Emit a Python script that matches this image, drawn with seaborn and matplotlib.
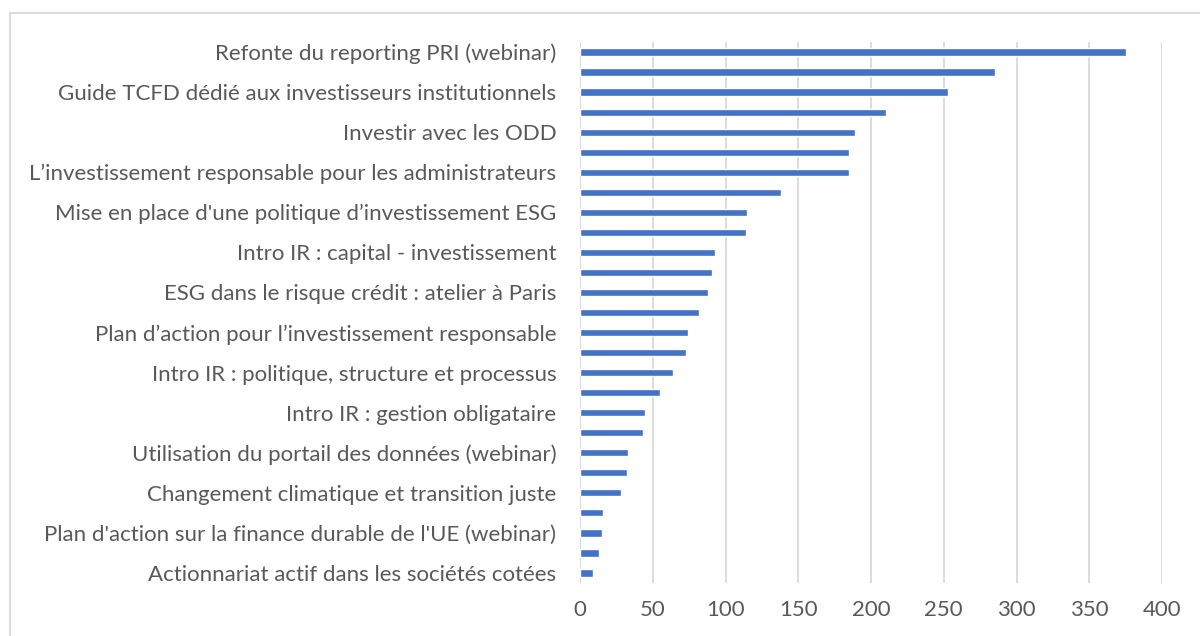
import matplotlib
matplotlib.use("Agg")
import matplotlib.pyplot as plt
from matplotlib.patches import Rectangle
import pandas as pd
import seaborn as sns

# Visible category labels (Excel shows every other one)
shown_labels = [
    "Refonte du reporting PRI (webinar)",
    "Guide TCFD dédié aux investisseurs institutionnels",
    "Investir avec les ODD",
    "L’investissement responsable pour les administrateurs",
    "Mise en place d'une politique d’investissement ESG",
    "Intro IR : capital - investissement",
    "ESG dans le risque crédit : atelier à Paris",
    "Plan d’action pour l’investissement responsable",
    "Intro IR : politique, structure et processus",
    "Intro IR : gestion obligataire",
    "Utilisation du portail des données (webinar)",
    "Changement climatique et transition juste",
    "Plan d'action sur la finance durable de l'UE (webinar)",
    "Actionnariat actif dans les sociétés cotées",
]

values = [375, 285, 253, 210, 189, 185, 185, 138, 115, 114, 93, 91, 88, 82,
          74, 73, 64, 55, 45, 43, 33, 32, 28, 16, 15, 13, 9]
rank = [str(i + 1) for i in range(len(values))]

x_ticks = list(range(0, 401, 50))

df = pd.DataFrame({"rank": rank, "participants": values})

sns.set_style("white")
plt.rcParams["font.family"] = ["Lato", "DejaVu Sans"]

fig = plt.figure(figsize=(12, 6.36), dpi=100)
ax = fig.add_axes([580 / 1200, 1 - 583 / 636, 582 / 1200, 541 / 636])

sns.barplot(data=df, x="participants", y="rank", color="#4472C4",
            saturation=1, width=0.36, ax=ax)

ax.set_xlim(0, 400)
ax.set_xticks(x_ticks)
ax.set_yticks(range(0, len(values), 2))
ax.set_yticklabels(shown_labels)
ax.xaxis.grid(True, color="#d9d9d9", lw=1.3)
ax.set_axisbelow(True)
for s in ax.spines.values():
    s.set_visible(False)
ax.tick_params(axis="both", length=0, labelsize=16, colors="#595959")
ax.tick_params(axis="y", pad=17)
ax.tick_params(axis="x", pad=12)
ax.set_xlabel("")
ax.set_ylabel("")

# chart frame
fig.patches.append(Rectangle((10 / 1200, -0.1), 1.2, (636 - 13) / 636 + 0.1,
                             transform=fig.transFigure, fill=False,
                             edgecolor="#d9d9d9", lw=1.3))

fig.savefig("out.png", dpi=100)
